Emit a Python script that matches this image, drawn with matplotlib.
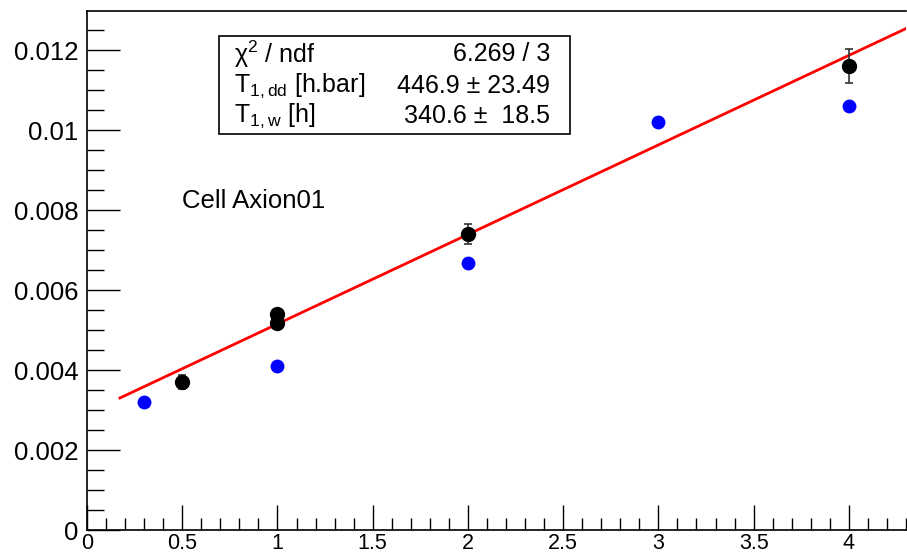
import matplotlib
matplotlib.use("Agg")
import matplotlib.pyplot as plt
from matplotlib.ticker import MultipleLocator, FuncFormatter
from matplotlib.patches import Rectangle

plt.rcParams['font.family'] = ['Liberation Sans', 'DejaVu Sans']
plt.rcParams['mathtext.fontset'] = 'custom'
plt.rcParams['mathtext.rm'] = 'Liberation Sans'
plt.rcParams['mathtext.it'] = 'Liberation Sans'

# Black points (with errors) - T1,dd
x_black = [0.5, 1.0, 1.0, 2.0, 4.0]
y_black = [0.0037, 0.0054, 0.00518, 0.0074, 0.0116]
e_black = [0.00018, 0.00012, 0.00012, 0.00025, 0.00042]

# Blue points - T1,w
x_blue = [0.3, 1.0, 2.0, 3.0, 4.0]
y_blue = [0.0032, 0.0041, 0.00668, 0.0102, 0.0106]

# Fit line
fit_intercept = 0.002913
fit_slope = 0.002238
fit_x = [0.173, 4.31]

fig = plt.figure(figsize=(9.07, 5.54), dpi=100)
ax = fig.add_axes([87/907, 24/554, 819/907, 519/554])
ax.set_xlim(0, 4.3)
ax.set_ylim(0, 0.012975)

fy = [fit_intercept + fit_slope * v for v in fit_x]
ax.plot(fit_x, fy, color='red', lw=2, zorder=2)

ax.plot(x_blue, y_blue, 'o', color='#0000ff', ms=10, mec='none', zorder=3)
ax.errorbar(x_black, y_black, yerr=e_black, fmt='o', color='black', ms=10,
            elinewidth=1.2, capsize=3, capthick=1.2, ecolor='#333333', zorder=4)

ax.xaxis.set_major_locator(MultipleLocator(0.5))
ax.xaxis.set_minor_locator(MultipleLocator(0.1))
ax.yaxis.set_major_locator(MultipleLocator(0.002))
ax.yaxis.set_minor_locator(MultipleLocator(0.0005))

def fmt(v, pos):
    s = ('%.3f' % v).rstrip('0').rstrip('.')
    return s if s else '0'
ax.yaxis.set_major_formatter(FuncFormatter(fmt))
ax.xaxis.set_major_formatter(FuncFormatter(lambda v, p: ('%.1f' % v).rstrip('0').rstrip('.')))

ax.tick_params(axis='x', which='major', direction='in', length=18, width=1, labelsize=15.5, pad=2)
ax.tick_params(axis='x', which='minor', direction='in', length=9, width=1)
ax.tick_params(axis='y', which='major', direction='in', length=24, width=1, labelsize=18.5, pad=6)
ax.tick_params(axis='y', which='minor', direction='in', length=12, width=1)
for s in ax.spines.values():
    s.set_linewidth(1.2)
ax.spines['right'].set_visible(False)

# Stats box
box_l, box_r, box_t, box_b = 219, 570, 36, 134
W, H = 907, 554
fig.patches.append(Rectangle((box_l/W, 1 - box_b/H), (box_r-box_l)/W, (box_b-box_t)/H,
                             transform=fig.transFigure, fill=True, facecolor='white',
                             edgecolor='black', lw=1.2, zorder=10))
rows_left = [r'χ$^{2}$ / ndf', r'T$_{\mathrm{1,dd}}$ [h.bar]', r'T$_{\mathrm{1,w}}$ [h]']
rows_right = ['6.269 / 3', '446.9 ± 23.49', '340.6 ±  18.5']
row_y = [54, 86, 116]
for tl, tr, yy in zip(rows_left, rows_right, row_y):
    fig.text(234/W, 1 - yy/H, tl, fontsize=18, va='center', ha='left', zorder=11)
    fig.text(550/W, 1 - yy/H, tr, fontsize=18, va='center', ha='right', zorder=11)

fig.text(182/W, 1 - 201/H, 'Cell Axion01', fontsize=18.5, va='center', ha='left')

fig.savefig('out.png', dpi=100)
